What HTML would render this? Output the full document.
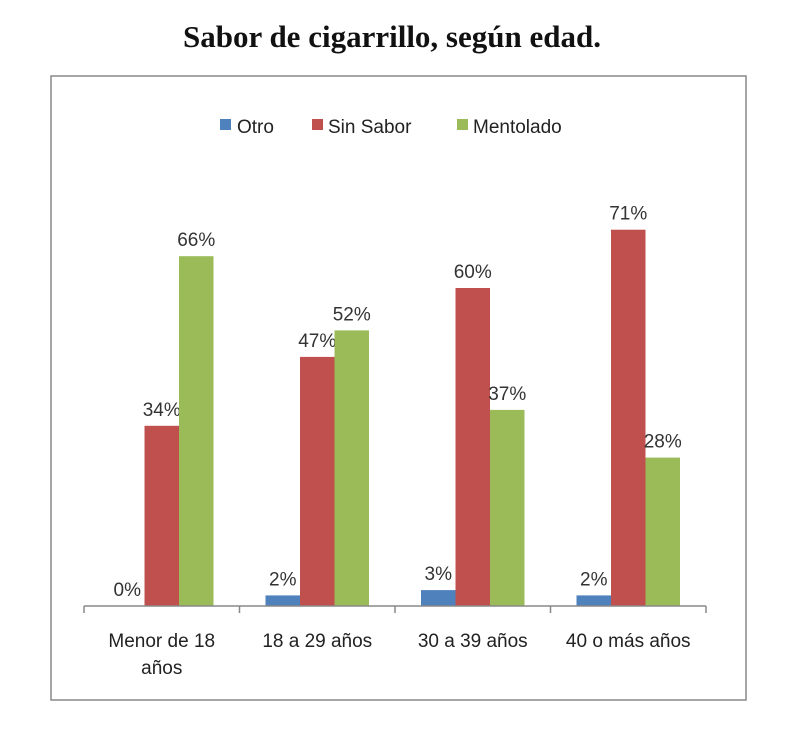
<!DOCTYPE html>
<html><head><meta charset="utf-8"><style>
body{margin:0;background:#fff;width:800px;height:742px;overflow:hidden}
svg{display:block}
</style></head><body>
<svg width="800" height="742">
<text x="392" y="47" text-anchor="middle" font-family="Liberation Serif, serif" font-weight="bold" font-size="31" fill="#111">Sabor de cigarrillo, según edad.</text>
<rect x="51" y="76" width="695" height="624" fill="#fff" stroke="#888" stroke-width="1.5"/>
<g font-family="Liberation Sans, sans-serif" font-size="19" fill="#222">
<rect x="220" y="119" width="11" height="11" fill="#4f81bd"/>
<text x="237" y="133">Otro</text>
<rect x="312" y="119" width="11" height="11" fill="#c0504d"/>
<text x="328" y="133">Sin Sabor</text>
<rect x="457" y="119" width="11" height="11" fill="#9bbb59"/>
<text x="473" y="133">Mentolado</text>
</g>
<g id="bars"></g>
<g id="axis"></g>
</svg>
<script>
const categories=[["Menor de 18","años"],["18 a 29 años"],["30 a 39 años"],["40 o más años"]];
const otro=[0,2,3,2];
const sinSabor=[34,47,60,71];
const mentolado=[66,52,37,28];
const seriesNames=["otro","sin-sabor","mentolado"];
const colors=["#4f81bd","#c0504d","#9bbb59"];
const NS="http://www.w3.org/2000/svg";
const x0=84,x1=706,base=606,pxPer=5.3,bw=34.5;
const cw=(x1-x0)/categories.length;
const y=v=>base-v*pxPer;
const bars=document.getElementById('bars'),axis=document.getElementById('axis');
function mk(t,a,p){const e=document.createElementNS(NS,t);for(const k in a)e.setAttribute(k,a[k]);p.appendChild(e);return e;}
[otro,sinSabor,mentolado].forEach((vals,s)=>{
 vals.forEach((v,i)=>{
  const cx=x0+cw*(i+0.5);const bx=cx-1.5*bw+s*bw;
  const r=mk('rect',{x:bx,y:y(v),width:bw,height:base-y(v),fill:colors[s]},bars);
  
  
  const t=mk('text',{x:bx+bw/2,y:y(v)-10,'text-anchor':'middle','font-family':'Liberation Sans, sans-serif','font-size':'19',fill:'#333'},bars);
  t.textContent=v+'%';
  
  
 });
});
const ax=mk('line',{x1:x0,y1:base,x2:x1,y2:base,stroke:'#888','stroke-width':1.5},axis);


for(let i=0;i<=categories.length;i++){
 const tk=mk('line',{x1:x0+cw*i,y1:base,x2:x0+cw*i,y2:base+7,stroke:'#888','stroke-width':1.5},axis);
 
 
}
categories.forEach((c,i)=>{
 c.forEach((ln,j)=>{
  const t=mk('text',{x:x0+cw*(i+0.5),y:647+j*27,'text-anchor':'middle','font-family':'Liberation Sans, sans-serif','font-size':'19',fill:'#222'},axis);
  t.textContent=ln;
  
  
 });
});
</script>
</body></html>
